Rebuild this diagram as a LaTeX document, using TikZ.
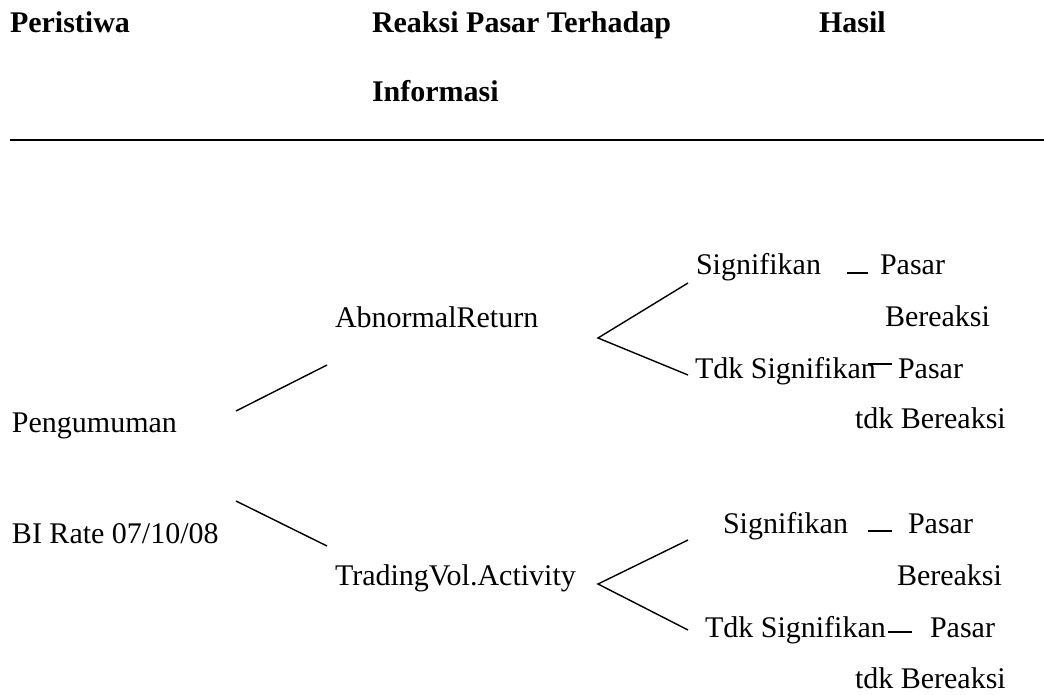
\documentclass[tikz,border=0pt]{standalone}
\usepackage{fontspec}
\setmainfont{Liberation Serif}
\begin{document}
\begin{tikzpicture}[x=1pt,y=-1pt,
  txt/.style={anchor=base west,inner sep=0pt,outer sep=0pt,font=\fontsize{30}{36}\selectfont},
  hdr/.style={txt,font=\fontsize{30}{36}\selectfont\bfseries},
  branch/.style={line width=1.4pt},
  tick/.style={line width=1.4pt},
  rule/.style={line width=2.2pt}]
\useasboundingbox (0,0) rectangle (1044,694);
% header
\node[hdr] (h1) at (10,32) {Peristiwa};
\node[hdr] (h2) at (372,32) {Reaksi Pasar Terhadap};
\node[hdr] (h3) at (819,32) {Hasil};
\node[hdr] (h4) at (372,101) {Informasi};
\coordinate (r1) at (10,140);
\coordinate (r2) at (1044,140);
\draw[rule] (r1) -- (r2);
% left
\node[txt] (peng) at (12,432) {Pengumuman};
\node[txt] (bi) at (12,543) {BI Rate 07/10/08};
% middle
\node[txt] (ar) at (335,327) {AbnormalReturn};
\node[txt] (tv) at (335,585) {TradingVol.Activity};
% right, upper
\node[txt] (s1) at (696,274) {Signifikan};
\node[txt] (p1) at (880,274) {Pasar};
\node[txt] (b1) at (885,326) {Bereaksi};
\node[txt] (t1) at (695,378) {Tdk Signifikan};
\node[txt] (p2) at (898,378) {Pasar};
\node[txt] (b2) at (855,428) {tdk Bereaksi};
% right, lower
\node[txt] (s2) at (723,533) {Signifikan};
\node[txt] (p3) at (908,533) {Pasar};
\node[txt] (b3) at (897,585) {Bereaksi};
\node[txt] (t2) at (705,637) {Tdk Signifikan};
\node[txt] (p4) at (930,637) {Pasar};
\node[txt] (b4) at (855,688) {tdk Bereaksi};
% connector end points
\coordinate (e1a) at (236,411);
\coordinate (e1b) at (327,365);
\coordinate (e2a) at (236,501);
\coordinate (e2b) at (327,546);
\coordinate (f1) at (598,338);
\coordinate (f1u) at (688,283);
\coordinate (f1d) at (688,375);
\coordinate (f2) at (598,584);
\coordinate (f2u) at (688,540);
\coordinate (f2d) at (688,630);
\draw[branch] (e1a) -- (e1b);
\draw[branch] (e2a) -- (e2b);
\draw[branch] (f1u) -- (f1) -- (f1d);
\draw[branch] (f2u) -- (f2) -- (f2d);
% short dashes between outcome and result
\coordinate (d1a) at (847,273); \coordinate (d1b) at (868,273);
\coordinate (d2a) at (868,364); \coordinate (d2b) at (892,364);
\coordinate (d3a) at (868,531); \coordinate (d3b) at (892,531);
\coordinate (d4a) at (888,632); \coordinate (d4b) at (912,632);
\draw[tick] (d1a) -- (d1b);
\draw[tick] (d2a) -- (d2b);
\draw[tick] (d3a) -- (d3b);
\draw[tick] (d4a) -- (d4b);
\end{tikzpicture}
\end{document}
